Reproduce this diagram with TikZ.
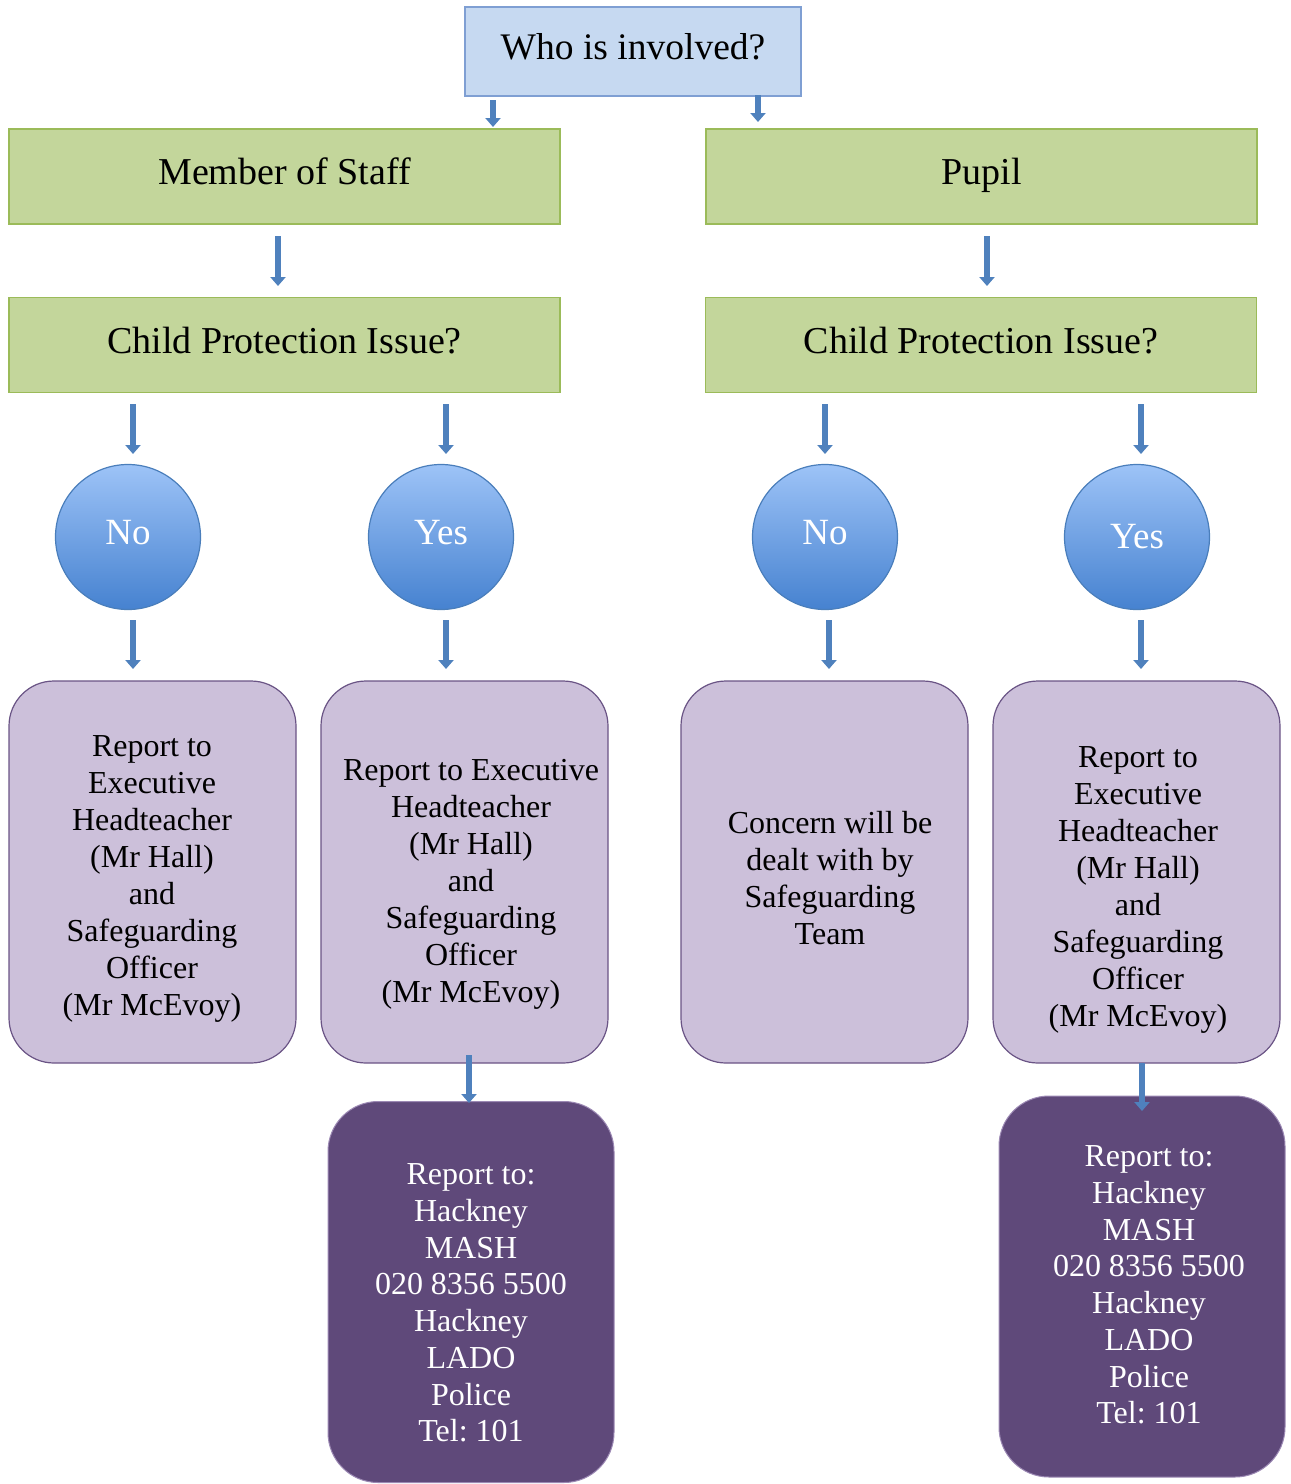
\documentclass[tikz,border=0pt]{standalone}
\usepackage{fontspec}
\setmainfont{Liberation Serif}
\usetikzlibrary{arrows.meta}
\definecolor{topfill}{HTML}{C6D9F1}
\definecolor{topdraw}{HTML}{7F9FD3}
\definecolor{grfill}{HTML}{C3D69B}
\definecolor{grdraw}{HTML}{9BBB59}
\definecolor{ltpfill}{HTML}{CCC0DA}
\definecolor{pdraw}{HTML}{6A5485}
\definecolor{dkpfill}{HTML}{5F497A}
\definecolor{dkpdraw}{HTML}{9C89B4}
\definecolor{ctop}{HTML}{9DC3F7}
\definecolor{cbot}{HTML}{4682D0}
\definecolor{cdraw}{HTML}{4A7EBB}
\definecolor{arr}{HTML}{4F81BD}
\frenchspacing
\begin{document}
\begin{tikzpicture}[x=1pt,y=-1pt,
  topbox/.style={draw=topdraw, fill=topfill, line width=1.2pt, minimum width=336pt, minimum height=89pt, inner sep=0pt, text height=26pt, text depth=10pt, font=\fontsize{37.5}{42}\selectfont},
  greenbox/.style={draw=grdraw, fill=grfill, line width=1.2pt, minimum width=551pt, minimum height=95pt, inner sep=0pt, text height=26pt, text depth=10pt, font=\fontsize{38}{42}\selectfont},
  circ/.style={circle, draw=cdraw, line width=1.2pt, top color=ctop, bottom color=cbot, minimum size=145pt, inner sep=0pt, text=white, text height=26pt, text depth=12pt, font=\fontsize{37}{40}\selectfont},
  lbox/.style={draw=pdraw, fill=ltpfill, rounded corners=45pt, line width=1.2pt, minimum width=287pt, minimum height=382pt, inner sep=0pt},
  dbox/.style={draw=dkpdraw, fill=dkpfill, rounded corners=50pt, line width=1pt, minimum width=286pt, minimum height=381pt, inner sep=0pt},
  ltext/.style={align=center, inner sep=0pt, font=\fontsize{32}{37}\selectfont},
  dtext/.style={align=center, inner sep=0pt, text=white, font=\fontsize{32}{36.7}\selectfont},
  barrow/.style={draw=arr, line width=5.5pt, -{Triangle[width=15pt,length=9pt]}}
]
\useasboundingbox (0,0) rectangle (1291,1484);

% top
\node[topbox] (who) at (633,51.5) {Who is involved?};
\node[greenbox] (staff) at (284.5,176.5) {Member of Staff};
\node[greenbox] (pupil) at (981.5,176.5) {Pupil};
\node[greenbox] (cpl) at (284.5,345) {Child Protection Issue?};
\node[greenbox] (cpr) at (981,345) {Child Protection Issue?};

% circles
\node[circ] (nol) at (128,537) {No};
\node[circ] (yesl) at (441,537) {Yes};
\node[circ] (nor) at (825,537) {No};
\node[circ, text depth=3pt] (yesr) at (1137,537) {Yes};

% light purple boxes
\node[lbox] (b1) at (152.5,872) {};
\node[lbox] (b2) at (464.5,872) {};
\node[lbox] (b3) at (824.5,872) {};
\node[lbox] (b4) at (1136.5,872) {};
\node[ltext] (t1) at (152,879) {Report to\\Executive\\Headteacher\\(Mr Hall)\\and\\Safeguarding\\Officer\\(Mr McEvoy)};
\node[ltext] (t2) at (471,884) {Report to Executive\\Headteacher\\(Mr Hall)\\and\\Safeguarding\\Officer\\(Mr McEvoy)};
\node[ltext] (t3) at (830,878) {Concern will be\\dealt with by\\Safeguarding\\Team};
\node[ltext] (t4) at (1138,890) {Report to\\Executive\\Headteacher\\(Mr Hall)\\and\\Safeguarding\\Officer\\(Mr McEvoy)};

% dark purple boxes
\node[dbox] (d1) at (471,1292) {};
\node[dbox] (d2) at (1142,1286.5) {};
\node[dtext] (dt1) at (471,1303) {Report to:\\Hackney\\MASH\\020 8356 5500\\Hackney\\LADO\\Police\\Tel: 101};
\node[dtext] (dt2) at (1149,1285) {Report to:\\Hackney\\MASH\\020 8356 5500\\Hackney\\LADO\\Police\\Tel: 101};

% arrow end points
\coordinate (a1s) at (493,100);  \coordinate (a1e) at (493,127);
\coordinate (a2s) at (758,95);   \coordinate (a2e) at (758,122);
\coordinate (a3s) at (278,236);  \coordinate (a3e) at (278,286);
\coordinate (a4s) at (987,236);  \coordinate (a4e) at (987,286);
\coordinate (a5s) at (133,404);  \coordinate (a5e) at (133,454);
\coordinate (a6s) at (446,404);  \coordinate (a6e) at (446,454);
\coordinate (a7s) at (825,404);  \coordinate (a7e) at (825,454);
\coordinate (a8s) at (1141,404); \coordinate (a8e) at (1141,454);
\coordinate (a9s) at (133,620);  \coordinate (a9e) at (133,669);
\coordinate (a10s) at (446,620); \coordinate (a10e) at (446,669);
\coordinate (a11s) at (829,620); \coordinate (a11e) at (829,669);
\coordinate (a12s) at (1141,620);\coordinate (a12e) at (1141,669);
\coordinate (a13s) at (469,1055);\coordinate (a13e) at (469,1103);
\coordinate (a14s) at (1142,1063);\coordinate (a14e) at (1142,1111);

\foreach \i in {1,...,14} \draw[barrow] (a\i s) -- (a\i e);
\end{tikzpicture}
\end{document}
